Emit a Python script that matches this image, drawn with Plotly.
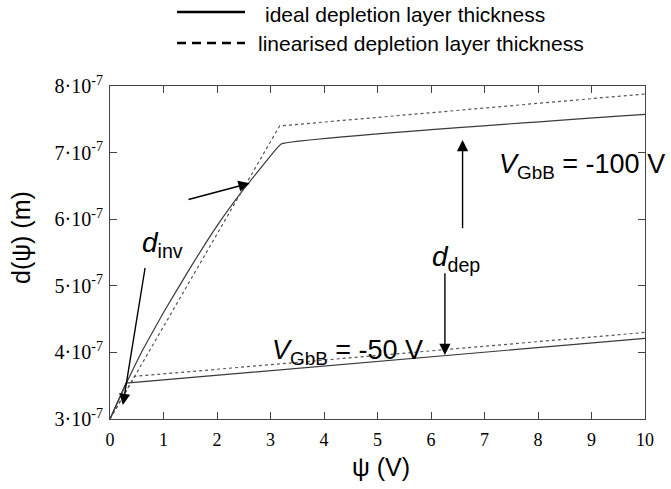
import plotly.graph_objects as go

# Data (psi in V, d in units of 1e-7 m)
psi_ideal_100 = [0, 0.3, 0.6, 1.0, 1.5, 2.0, 2.5, 3.0, 3.2, 10]
d_ideal_100 = [3.0, 3.53, 4.02, 4.6, 5.27, 5.9, 6.45, 6.95, 7.13, 7.575]
psi_lin_100 = [0, 3.17, 10]
d_lin_100 = [3.0, 7.40, 7.88]
psi_ideal_50 = [0, 0.15, 0.3, 10]
d_ideal_50 = [3.0, 3.28, 3.54, 4.21]
psi_lin_50 = [0, 0.46, 10]
d_lin_50 = [3.0, 3.64, 4.30]

ytick_vals = [3, 4, 5, 6, 7, 8]
ytick_text = [f"{v}·10<sup>-7</sup>" for v in ytick_vals]
xtick_vals = list(range(0, 11))

S = 1e-7
LINE = "#3a3a3a"
DOT = "#555555"

# plot area in pixels
L, R, T, B = 110, 645, 86, 419
PW, PH = R - L, B - T

def px(xp):
    return (xp - L) / PW

def py(yp):
    return (B - yp) / PH

fig = go.Figure()
fig.add_trace(go.Scatter(x=psi_ideal_100, y=[v * S for v in d_ideal_100], mode="lines",
                         line=dict(color=LINE, width=1.2, shape="spline", smoothing=0.3),
                         showlegend=False))
fig.add_trace(go.Scatter(x=psi_lin_100, y=[v * S for v in d_lin_100], mode="lines",
                         line=dict(color=DOT, width=1.2, dash="dot"), showlegend=False))
fig.add_trace(go.Scatter(x=psi_ideal_50, y=[v * S for v in d_ideal_50], mode="lines",
                         line=dict(color=LINE, width=1.2), showlegend=False))
fig.add_trace(go.Scatter(x=psi_lin_50, y=[v * S for v in d_lin_50], mode="lines",
                         line=dict(color=DOT, width=1.2, dash="dot"), showlegend=False))

axis_common = dict(showline=True, linecolor="#444", linewidth=1.2, mirror="ticks",
                   ticks="inside", ticklen=7, tickcolor="#444", tickwidth=1.2,
                   showgrid=False, zeroline=False,
                   tickfont=dict(family="Liberation Serif", size=18, color="black"))

fig.update_layout(
    width=671, height=489,
    margin=dict(l=L, r=671 - R, t=T, b=489 - B),
    paper_bgcolor="white", plot_bgcolor="white",
    xaxis=dict(range=[0, 10], tickvals=xtick_vals, ticklabelstandoff=4, **axis_common),
    yaxis=dict(range=[3 * S, 8 * S], tickvals=[v * S for v in ytick_vals], ticktext=ytick_text,
               ticklabelstandoff=2, **axis_common),
)
fig.update_yaxes(tickfont=dict(family="Liberation Serif", size=20, color="black"))

title_font = dict(family="Liberation Sans", size=25, color="black")
fig.add_annotation(xref="paper", yref="paper", x=px(381), y=py(467), text="ψ (V)",
                   showarrow=False, font=title_font, xanchor="center", yanchor="middle")
fig.add_annotation(xref="paper", yref="paper", x=px(21), y=py(238), text="d(ψ) (m)",
                   showarrow=False, font=title_font, textangle=-90,
                   xanchor="center", yanchor="middle")

# Legend drawn manually
leg_font = dict(family="Liberation Sans", size=21, color="black")
fig.add_shape(type="line", xref="paper", yref="paper", x0=px(177), x1=px(245),
              y0=py(12), y1=py(12), line=dict(color="black", width=2.5))
fig.add_shape(type="line", xref="paper", yref="paper", x0=px(177), x1=px(245),
              y0=py(43), y1=py(43), line=dict(color="black", width=2.5, dash="9px,6px"))
fig.add_annotation(xref="paper", yref="paper", x=px(263), y=py(14),
                   text="ideal depletion layer thickness", showarrow=False, xanchor="left",
                   yanchor="middle", font=leg_font)
fig.add_annotation(xref="paper", yref="paper", x=px(256), y=py(44),
                   text="linearised depletion layer thickness", showarrow=False, xanchor="left",
                   yanchor="middle", font=leg_font)

# Arrows
arrows = [
    (0.24, 3.21, 0.66, 5.29),
    (2.61, 6.54, 1.44, 6.29),
    (6.59, 7.19, 6.59, 5.84),
    (6.26, 3.96, 6.26, 5.21),
]
for x, y, ax, ay in arrows:
    fig.add_annotation(x=x, y=y * S, ax=ax, ay=ay * S, xref="x", yref="y", axref="x", ayref="y",
                       showarrow=True, arrowhead=2, arrowsize=1.6, arrowwidth=1.4,
                       arrowcolor="black", text="")

lab_font = dict(family="Liberation Sans", size=28, color="black")
fig.add_annotation(x=(162 - L) / PW * 10, y=(3 + (B - 244) / 66.6) * S, xref="x", yref="y",
                   text="<i>d</i><sub>inv</sub>", showarrow=False, font=lab_font)
fig.add_annotation(x=(456 - L) / PW * 10, y=(3 + (B - 258) / 66.6) * S, xref="x", yref="y",
                   text="<i>d</i><sub>dep</sub>", showarrow=False, font=lab_font)
fig.add_annotation(x=(497 - L) / PW * 10, y=(3 + (B - 166) / 66.6) * S, xref="x", yref="y",
                   text="<i>V</i><sub>GbB</sub> = -100 V", showarrow=False,
                   font=dict(family="Liberation Sans", size=27, color="black"), xanchor="left")
fig.add_annotation(x=(270 - L) / PW * 10, y=(3 + (B - 352) / 66.6) * S, xref="x", yref="y",
                   text="<i>V</i><sub>GbB</sub> = -50 V", showarrow=False,
                   font=dict(family="Liberation Sans", size=27, color="black"), xanchor="left")

fig.write_html("out.html")
